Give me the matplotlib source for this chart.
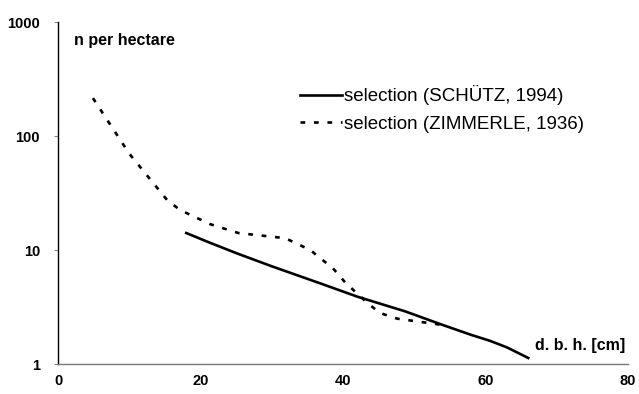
import numpy as np
import matplotlib
matplotlib.use("Agg")
import matplotlib.pyplot as plt
from matplotlib.ticker import FixedLocator, NullLocator

plt.rcParams['font.family'] = ['Liberation Sans', 'DejaVu Sans']

# diameter at breast height [cm] and stems per hectare
schutz_dbh = [18, 21, 25, 30, 36.8, 42, 48.7, 54, 58, 60.6, 63, 66]
schutz_n = [14.1, 11.8, 9.4, 7.2, 5.1, 3.9, 2.9, 2.2, 1.8, 1.6, 1.4, 1.13]

zimmerle_dbh = [4.9, 10, 15.3, 17.1, 21.3, 25.3, 31.9, 35.4, 36.8, 38.6, 40.3,
                41.9, 43.5, 45.2, 47.6, 51.8, 54]
zimmerle_n = [215, 70, 27.5, 22.5, 16.9, 14.1, 12.7, 10, 8.5, 6.9, 5.2,
              4.2, 3.4, 2.8, 2.5, 2.3, 2.2]

x_ticks = [0, 20, 40, 60, 80]
y_ticks = [1, 10, 100, 1000]

fig = plt.figure(figsize=(6.39, 3.94), dpi=100)
ax = fig.add_axes([0.0908, 0.0761, 0.892, 0.868])

ax.plot(schutz_dbh, schutz_n, color='black', lw=1.9,
        label='selection (SCHÜTZ, 1994)')
ax.plot(zimmerle_dbh, zimmerle_n, color='black', lw=1.9, ls=(0, (1.8, 3.3)),
        label='selection (ZIMMERLE, 1936)')

ax.set_yscale('log')
ax.set_xlim(0, 80)
ax.set_ylim(1, 1000)
ax.xaxis.set_major_locator(FixedLocator(x_ticks))
ax.yaxis.set_major_locator(FixedLocator(y_ticks))
ax.yaxis.set_minor_locator(NullLocator())
ax.set_yticklabels([str(v) for v in y_ticks])
ax.set_xticklabels([str(v) for v in x_ticks])
for lab in ax.get_xticklabels() + ax.get_yticklabels():
    lab.set_fontweight('bold')
    lab.set_fontsize(10.5)
ax.tick_params(axis='y', length=3, width=0.8, color='#888888', pad=10)
ax.tick_params(axis='x', length=0, pad=7)

for s in ['top', 'right']:
    ax.spines[s].set_visible(False)
ax.spines['left'].set_linewidth(1.0)
ax.spines['bottom'].set_color('#777777')
ax.spines['bottom'].set_linewidth(1.0)

ax.text(0.028, 0.945, 'n per hectare', transform=ax.transAxes, fontsize=11.5,
        fontweight='bold', va='center', ha='left')
ax.text(0.836, 0.055, 'd. b. h. [cm]', transform=ax.transAxes, fontsize=11.5,
        fontweight='bold', va='center', ha='left')

ax.legend(loc='upper left', bbox_to_anchor=(0.425, 0.815), frameon=False,
          fontsize=13.5, handlelength=2.2, handletextpad=0.12,
          labelspacing=0.55, borderaxespad=0, borderpad=0)

fig.savefig('out.png', dpi=100)
